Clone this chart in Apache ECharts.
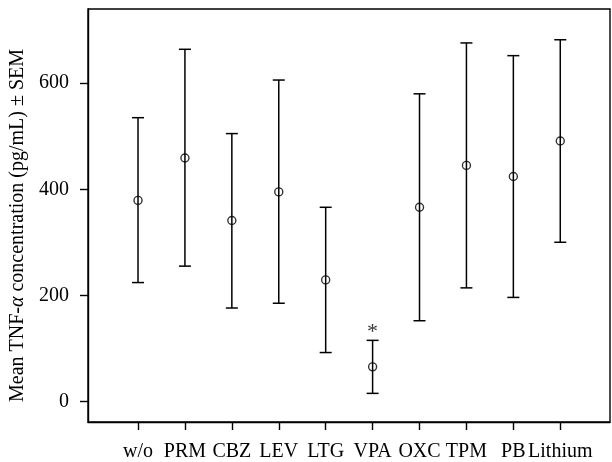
<!DOCTYPE html>
<html>
<head>
<meta charset="utf-8">
<script src="https://cdn.jsdelivr.net/npm/echarts@6/dist/echarts.min.js"></script>
<style>
    html, body { margin: 0; padding: 0; background: #fff; }
    #chart { width: 612px; height: 462px; }
</style>
</head>
<body>
<div id="chart"></div>
<script>
    // groups along the x axis
    const groups = ['w/o', 'PRM', 'CBZ', 'LEV', 'LTG', 'VPA', 'OXC', 'TPM', 'PB', 'Lithium']
    // mean TNF-a and mean +/- SEM
    const means = [379, 459, 341, 395, 229, 65, 366, 445, 424, 491]
    const upper = [535, 664, 505, 606, 366, 115, 580, 676, 652, 682]
    const lower = [224, 255, 176, 185, 92, 15, 152, 214, 196, 300]
    // significance marks
    const sigMarks = ['', '', '', '', '', '*', '', '', '', '']
    const yTicks = [0, 200, 400, 600]

    const font = 'Liberation Serif'
    const xPos = groups.map((g, i) => i + 1)

    const barData = xPos.map((x, i) => [x, lower[i], upper[i]])
    const meanData = xPos.map((x, i) => [x, means[i]])
    const sigData = []
    sigMarks.forEach((m, i) => {
        if (m) sigData.push({value: [xPos[i], upper[i]], mark: m})
    })

    const chart = echarts.init(document.getElementById('chart'))
    chart.setOption({
        animation: false,
        grid: {
            left: 88,
            right: 2,
            top: 9,
            bottom: 39,
            show: true,
            borderColor: '#000',
            borderWidth: 1.4
        },
        xAxis: {
            type: 'value',
            min: -0.066,
            max: 11.06,
            splitLine: {show: false},
            axisLine: {show: true, onZero: false, lineStyle: {color: '#000', width: 1.4}},
            axisTick: {show: true, length: 8, customValues: xPos, lineStyle: {color: '#000', width: 1.4}},
            axisLabel: {
                customValues: xPos,
                margin: 20,
                color: '#000',
                fontFamily: font,
                fontSize: 20,
                formatter: v => groups[Math.round(v) - 1] || ''
            }
        },
        yAxis: {
            type: 'value',
            min: -39,
            max: 740,
            splitLine: {show: false},
            axisLine: {show: true, onZero: false, lineStyle: {color: '#000', width: 1.4}},
            axisTick: {show: true, length: 8, customValues: yTicks, lineStyle: {color: '#000', width: 1.4}},
            axisLabel: {
                customValues: yTicks,
                margin: 19,
                color: '#000',
                fontFamily: font,
                fontSize: 20
            },
            name: 'Mean TNF-{i|α} concentration (pg/mL) ± SEM',
            nameLocation: 'middle',
            nameGap: 60,
            nameTextStyle: {
                color: '#000',
                fontFamily: font,
                fontSize: 20,
                padding: [0, 20, 0, 0],
                rich: {
                    i: {fontStyle: 'italic', fontFamily: font, fontSize: 20, color: '#000'}
                }
            }
        },
        series: [
            {
                // error bars
                type: 'custom',
                data: barData,
                renderItem (params, api) {
                    const x = api.value(0)
                    const top = api.coord([x, api.value(2)])
                    const bot = api.coord([x, api.value(1)])
                    const w = 6
                    const st = {stroke: '#000', lineWidth: 1.5}
                    return {
                        type: 'group',
                        children: [
                            {type: 'line', shape: {x1: top[0], y1: top[1], x2: bot[0], y2: bot[1]}, style: st},
                            {type: 'line', shape: {x1: top[0] - w, y1: top[1], x2: top[0] + w, y2: top[1]}, style: st},
                            {type: 'line', shape: {x1: bot[0] - w, y1: bot[1], x2: bot[0] + w, y2: bot[1]}, style: st}
                        ]
                    }
                },
                z: 2
            },
            {
                // means
                type: 'scatter',
                data: meanData,
                symbol: 'circle',
                symbolSize: 8,
                itemStyle: {color: 'rgba(0,0,0,0)', borderColor: '#000', borderWidth: 1.4},
                z: 3
            },
            {
                // significance
                type: 'scatter',
                data: sigData,
                symbolSize: 0,
                label: {
                    show: true,
                    position: 'top',
                    distance: -3,
                    color: '#000',
                    fontFamily: font,
                    fontSize: 22,
                    formatter: p => p.data.mark
                },
                z: 3
            }
        ]
    })
</script>
</body>
</html>
